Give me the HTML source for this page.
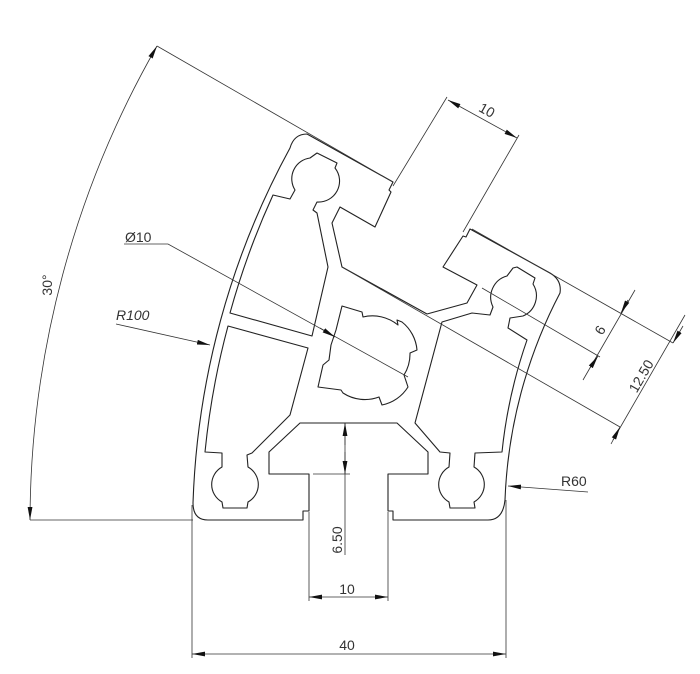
<!DOCTYPE html>
<html><head><meta charset="utf-8"><style>
html,body{margin:0;padding:0;background:#fff;}
svg{display:block;}
text{font-family:"Liberation Sans",sans-serif;fill:#333;font-size:14px;}
</style></head><body>
<svg width="700" height="674" viewBox="0 0 700 674" xmlns="http://www.w3.org/2000/svg">
<defs>
<marker id="a" markerUnits="userSpaceOnUse" markerWidth="14" markerHeight="6" refX="13" refY="3" orient="auto-start-reverse" viewBox="0 0 14 6">
<path d="M0,0.6 L13,3 L0,5.4 Z" fill="#111"/>
</marker>
</defs>
<g fill="none" stroke="#222" stroke-width="1.1" stroke-linejoin="round">
<path d="M307,134 L393,182 L389,190 L391,192 L375,227 L340,207 L332,223 L342,267 L427,314 L467,303 L477,285 L443,267 L463,236 L466,237 L470,229 L550,273 Q562,280 560,293 A484,484 0 0 0 505,500 Q503,520 488,520 L393,520 L393,511 L388,511 L388,474 L428,474 L428,452 L397,423 L300,423 L269,452 L269,474 L309,474 L309,511 L303,511 L303,520 L208,520 Q193,520 193,503 A796,796 0 0 1 290,148 Q294,134 307,134 Z"/>
<path d="M273,195 L290,199 L295,190 A21,21 0 0 1 310,158 L317,153 L337,163 L335,168 A21,21 0 0 1 317,202 L313,210 L317,213 L328,267 L312,336 L230,313 A785,785 0 0 1 273,195 Z"/>
<path d="M228,326 L308,348 L290,415 L252,453 L247,455 L248,467 A20,20 0 0 1 248,502 L247,508 L223,508 L222,502 A20,20 0 0 1 222,467 L222,453 L205,452 A785,785 0 0 1 228,326 Z"/>
<path d="M442,322 L472,313 L490,315 L493,307 A22,22 0 0 1 507,276 L513,268 L517,267 L535,278 L533,284 A22,22 0 0 1 523,316 L510,318 L508,328 L527,340 A494,494 0 0 0 502,452 L475,453 L474,467 A20,20 0 0 1 474,502 L475,508 L450,508 L449,502 A20,20 0 0 1 449,467 L450,453 L440,452 L415,423 Z"/>
<path d="M342,306 L362,312 L363,317 A40,40 0 0 1 398,325 L397,320 L402,322 A40,40 0 0 1 417,350 L410,353 A40,40 0 0 1 404,375 L408,387 A40,40 0 0 1 382,405 L379,397 A40,40 0 0 1 343,393 L341,390 L318,387 L323,365 L329,360 L331,345 L336,330 Z"/>
</g>
<g fill="none" stroke="#333" stroke-width="0.8">
<line x1="393" y1="186" x2="447" y2="97"/>
<line x1="463" y1="232" x2="519" y2="135"/>
<line x1="448" y1="100" x2="517" y2="138" marker-start="url(#a)" marker-end="url(#a)"/>
<line x1="157" y1="46" x2="393" y2="182"/>
<line x1="472" y1="229" x2="673" y2="343"/>
<line x1="342" y1="267" x2="620" y2="427"/>
<line x1="482" y1="288" x2="600" y2="357"/>
<line x1="635" y1="290" x2="583" y2="380"/>
<line x1="628" y1="300" x2="621" y2="313" marker-end="url(#a)"/>
<line x1="590" y1="368" x2="598" y2="356" marker-end="url(#a)"/>
<line x1="685" y1="315" x2="613" y2="440"/>
<line x1="683" y1="326" x2="673" y2="343" marker-end="url(#a)"/>
<line x1="611" y1="444" x2="620" y2="427" marker-end="url(#a)"/>
<polyline points="124,244 168,244 408,377"/>
<line x1="320" y1="328" x2="335" y2="337" marker-end="url(#a)"/>
<line x1="116" y1="324" x2="210" y2="345" marker-end="url(#a)"/>
<path d="M30,520 A959,959 0 0 1 157,46" marker-start="url(#a)" marker-end="url(#a)"/>
<line x1="30" y1="520" x2="193" y2="520"/>
<line x1="192" y1="505" x2="192" y2="658"/>
<line x1="506" y1="500" x2="506" y2="658"/>
<line x1="192" y1="654" x2="506" y2="654" marker-start="url(#a)" marker-end="url(#a)"/>
<line x1="309" y1="512" x2="309" y2="601"/>
<line x1="388" y1="512" x2="388" y2="601"/>
<line x1="309" y1="597" x2="388" y2="597" marker-start="url(#a)" marker-end="url(#a)"/>
<line x1="345" y1="423" x2="345" y2="555"/>
<line x1="313" y1="474" x2="350" y2="474"/>
<line x1="345" y1="445" x2="345" y2="423" marker-end="url(#a)"/>
<line x1="345" y1="452" x2="345" y2="474" marker-end="url(#a)"/>
<line x1="588" y1="492" x2="508" y2="486" marker-end="url(#a)"/>
</g>
<text x="487" y="115" text-anchor="middle" transform="rotate(29 487 110)">10</text>
<text x="600" y="335" text-anchor="middle" transform="rotate(-60 600 330)">6</text>
<text x="641" y="381" text-anchor="middle" transform="rotate(-60 641 376)">12.50</text>
<text x="125" y="242" font-size="15">Ø10</text>
<text x="116" y="320" font-style="italic">R100</text>
<text x="47" y="290" text-anchor="middle" transform="rotate(-90 47 285)">30°</text>
<text x="561" y="486">R60</text>
<text x="347" y="594" text-anchor="middle">10</text>
<text x="347" y="650" text-anchor="middle">40</text>
<text x="337" y="545" text-anchor="middle" transform="rotate(-90 337 540)">6.50</text>
</svg>
</body></html>
